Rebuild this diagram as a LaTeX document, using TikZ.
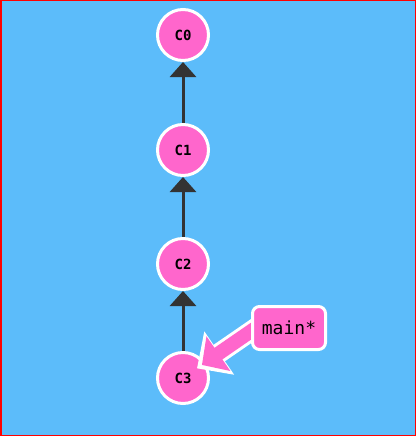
\documentclass[tikz,border=0pt]{standalone}
\usepackage{fontspec}
\newfontfamily\monofont{DejaVu Sans Mono}
\usetikzlibrary{positioning,arrows.meta,backgrounds}

\definecolor{bgblue}{HTML}{5CBCFA}
\definecolor{commitpink}{HTML}{FF66CC}
\definecolor{edgegray}{HTML}{333333}

\pgfdeclarelayer{front}
\pgfsetlayers{background,main,front}

\begin{document}
\begin{tikzpicture}[
    x=1pt, y=-1pt,
    commit/.style={circle, draw=white, line width=3pt, fill=commitpink, minimum size=51pt, inner sep=0pt, font=\monofont\bfseries\fontsize{14}{16}\selectfont},
    branchlabel/.style={rectangle, rounded corners=7pt, draw=white, line width=3pt, fill=commitpink, minimum width=73pt, minimum height=43pt, inner sep=0pt, font=\monofont\fontsize{18}{20}\selectfont},
    parentarrow/.style={-{Triangle[length=15pt, width=26pt]}, line width=3pt, color=edgegray},
    branchoutline/.style={-{Triangle[length=27pt, width=51pt]}, line width=20pt, color=white, shorten <=22pt, shorten >=17pt},
    brancharrow/.style={-{Triangle[length=20pt, width=41pt]}, line width=14pt, color=commitpink, shorten <=22pt, shorten >=23pt}
]

% Commits
\node[commit] (c0) at (183,35) {C0};
\node[commit] (c1) at (183,150) {C1};
\node[commit] (c2) at (183,264) {C2};
\node[commit] (c3) at (183,378) {C3};

% Branch label
\begin{pgfonlayer}{front}
\node[branchlabel] (main) at (289,328) {main*};
\end{pgfonlayer}

\begin{scope}[on background layer]
% Background and frame
\fill[bgblue] (0,0) rectangle (416,436);
\draw[red, line width=1.5pt] (0.75,0.75) rectangle (415.25,435.25);

% Parent arrows
\draw[parentarrow] (c1) -- (c0);
\draw[parentarrow] (c2) -- (c1);
\draw[parentarrow] (c3) -- (c2);
\end{scope}

% Branch pointer
\draw[branchoutline] (main.north) -- (c3.center);
\draw[brancharrow] (main.north) -- (c3.center);

\end{tikzpicture}
\end{document}
